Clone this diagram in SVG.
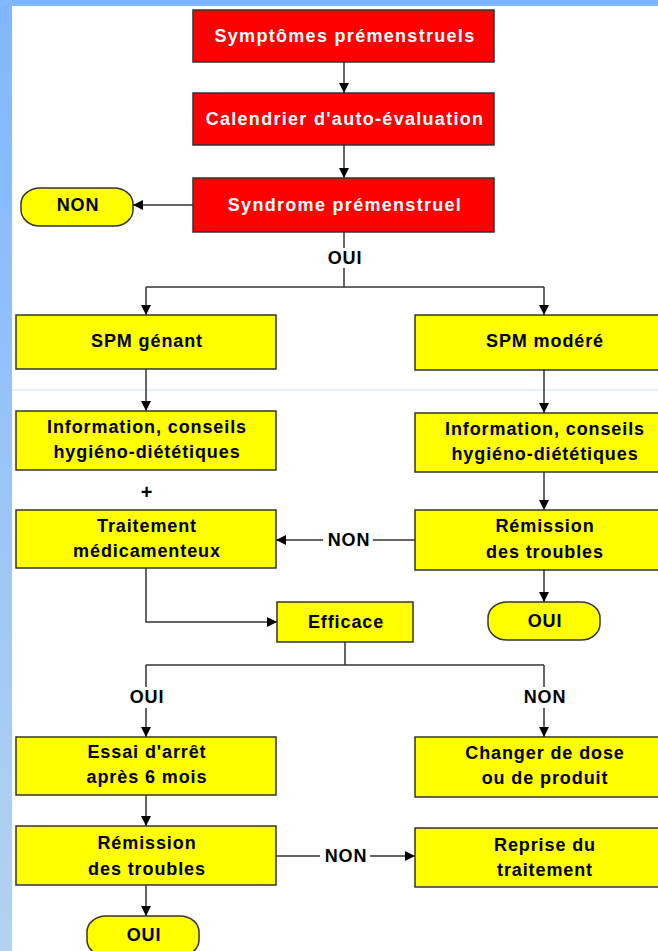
<svg xmlns="http://www.w3.org/2000/svg" width="658" height="951" viewBox="0 0 658 951">
<defs>
<linearGradient id="lg" x1="0" y1="0" x2="0" y2="1">
<stop offset="0" stop-color="#7fb7ff"/>
<stop offset="1" stop-color="#b4d2f0"/>
</linearGradient>
<marker id="ah" viewBox="0 0 10 10" refX="10" refY="5" markerWidth="11" markerHeight="10" markerUnits="userSpaceOnUse" orient="auto">
<path d="M0,0 L10,5 L0,10 z" fill="#000"/>
</marker>
<style>
.red{fill:#ff0000;stroke:#333;stroke-width:1.5}
.yel{fill:#ffff00;stroke:#333;stroke-width:1.5}
.tw{font-family:"Liberation Sans",Arial,sans-serif;font-weight:bold;font-size:18px;fill:#fff;text-anchor:middle;letter-spacing:1.3px}
.tb{font-family:"Liberation Sans",Arial,sans-serif;font-weight:bold;font-size:18px;fill:#000;text-anchor:middle;letter-spacing:0.9px}
.ln{fill:none;stroke:#333;stroke-width:1.5}
.ar{fill:none;stroke:#333;stroke-width:1.5;marker-end:url(#ah)}
</style>
</defs>
<rect x="0" y="0" width="658" height="951" fill="#fff"/>
<rect x="0" y="0" width="12" height="951" fill="url(#lg)"/>
<rect x="0" y="0" width="658" height="6" fill="#7fb7ff"/>
<line x1="12" y1="390" x2="658" y2="390" stroke="#cce0ff" stroke-width="1"/>

<g id="connectors">
<line class="ar" x1="344" y1="62" x2="344" y2="93"/>
<line class="ar" x1="344" y1="145" x2="344" y2="178"/>
<line class="ar" x1="193" y1="205" x2="133" y2="205"/>
<line class="ln" x1="344" y1="232" x2="344" y2="248"/>
<polyline class="ln" points="344,268 344,287"/>
<line class="ln" x1="146" y1="287" x2="544" y2="287"/>
<line class="ar" x1="146" y1="287" x2="146" y2="315"/>
<line class="ar" x1="544" y1="287" x2="544" y2="315"/>
<line class="ar" x1="146" y1="369" x2="146" y2="411"/>
<line class="ar" x1="544" y1="370" x2="544" y2="413"/>
<line class="ar" x1="544" y1="472" x2="544" y2="510"/>
<line class="ln" x1="415" y1="540" x2="373" y2="540"/>
<line class="ar" x1="323" y1="540" x2="276" y2="540"/>
<line class="ar" x1="544" y1="570" x2="544" y2="602"/>
<polyline class="ar" points="146,568 146,622 277,622"/>
<line class="ln" x1="345" y1="642" x2="345" y2="665"/>
<line class="ln" x1="146" y1="665" x2="544" y2="665"/>
<line class="ln" x1="146" y1="665" x2="146" y2="687"/>
<line class="ln" x1="544" y1="665" x2="544" y2="687"/>
<line class="ar" x1="146" y1="708" x2="146" y2="737"/>
<line class="ar" x1="544" y1="708" x2="544" y2="737"/>
<line class="ar" x1="146" y1="795" x2="146" y2="826"/>
<line class="ln" x1="276" y1="856" x2="320" y2="856"/>
<line class="ar" x1="370" y1="856" x2="415" y2="856"/>
<line class="ar" x1="146" y1="885" x2="146" y2="916"/>
<text class="tb" x="345" y="264">OUI</text>
<text class="tb" x="349" y="546">NON</text>
<text class="tb" x="147" y="703">OUI</text>
<text class="tb" x="545" y="703">NON</text>
<text class="tb" x="346" y="862">NON</text>
<text class="tb" x="147" y="499" style="font-size:20px">+</text>
</g>

<g id="n1"><rect class="red" x="193" y="10" width="301" height="52"/><text class="tw" x="345" y="42">Symptômes prémenstruels</text></g>
<g id="n2"><rect class="red" x="193" y="93" width="301" height="52"/><text class="tw" x="345" y="125">Calendrier d'auto-évaluation</text></g>
<g id="n3"><rect class="red" x="193" y="178" width="301" height="54"/><text class="tw" x="345" y="211">Syndrome prémenstruel</text></g>
<g id="n4"><rect class="yel" x="21" y="188" width="112" height="38" rx="19" ry="16"/><text class="tb" x="78" y="211">NON</text></g>
<g id="n5"><rect class="yel" x="16" y="315" width="260" height="54"/><text class="tb" x="147" y="347">SPM génant</text></g>
<g id="n6"><rect class="yel" x="415" y="315" width="258" height="55"/><text class="tb" x="545" y="347">SPM modéré</text></g>
<g id="n7"><rect class="yel" x="16" y="411" width="260" height="59"/><text class="tb" x="147" y="433">Information, conseils</text><text class="tb" x="147" y="458">hygiéno-diététiques</text></g>
<g id="n8"><rect class="yel" x="415" y="413" width="258" height="59"/><text class="tb" x="545" y="435">Information, conseils</text><text class="tb" x="545" y="460">hygiéno-diététiques</text></g>
<g id="n9"><rect class="yel" x="16" y="510" width="260" height="58"/><text class="tb" x="147" y="532">Traitement</text><text class="tb" x="147" y="557">médicamenteux</text></g>
<g id="n10"><rect class="yel" x="415" y="510" width="258" height="60"/><text class="tb" x="545" y="532">Rémission</text><text class="tb" x="545" y="558">des troubles</text></g>
<g id="n11"><rect class="yel" x="488" y="602" width="112" height="38" rx="19" ry="16"/><text class="tb" x="545" y="627">OUI</text></g>
<g id="n12"><rect class="yel" x="277" y="602" width="136" height="40"/><text class="tb" x="346" y="628">Efficace</text></g>
<g id="n13"><rect class="yel" x="16" y="737" width="260" height="58"/><text class="tb" x="147" y="758">Essai d'arrêt</text><text class="tb" x="147" y="783">après 6 mois</text></g>
<g id="n14"><rect class="yel" x="415" y="737" width="258" height="60"/><text class="tb" x="545" y="759">Changer de dose</text><text class="tb" x="545" y="784">ou de produit</text></g>
<g id="n15"><rect class="yel" x="16" y="826" width="260" height="59"/><text class="tb" x="147" y="849">Rémission</text><text class="tb" x="147" y="875">des troubles</text></g>
<g id="n16"><rect class="yel" x="415" y="828" width="258" height="59"/><text class="tb" x="545" y="851">Reprise du</text><text class="tb" x="545" y="876">traitement</text></g>
<g id="n17"><rect class="yel" x="87" y="916" width="112" height="40" rx="19" ry="16"/><text class="tb" x="144" y="941">OUI</text></g>
</svg>
